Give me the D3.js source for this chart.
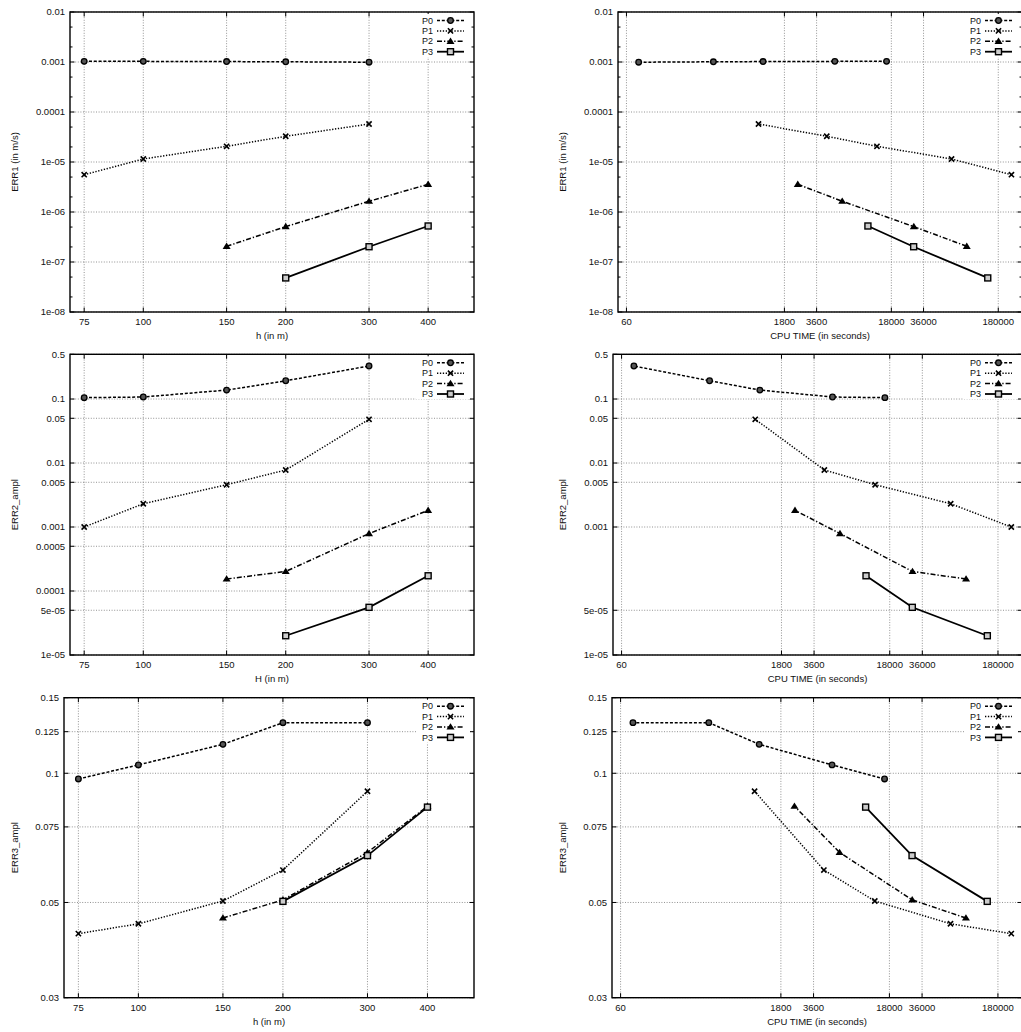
<!DOCTYPE html>
<html lang="en">
<head>
<meta charset="utf-8">
<title>Error convergence</title>
<script src="https://d3js.org/d3.v7.min.js"></script>
<style>
  body { margin: 0; background: #fff; }
  svg text { font-family: "Liberation Sans", Arial, sans-serif; font-size: 9.5px; fill: #111; }
</style>
</head>
<body>
<div id="chart"></div>
<script>
// ---- data ----
const methods = ["P0", "P1", "P2", "P3"];

const hP0 = [75, 100, 150, 200, 300];
const cpuP0 = [16240, 5330, 1136, 390, 78];
const err1P0 = [0.00103, 0.00103, 0.00102, 0.00101, 0.00099];
const err2P0 = [0.105, 0.1075, 0.138, 0.193, 0.328];
const err3P0 = [0.097, 0.1046, 0.1168, 0.1312, 0.1312];

const hP1 = [75, 100, 150, 200, 300];
const cpuP1 = [239000, 65800, 13200, 4480, 1030];
const err1P1 = [5.57e-6, 1.15e-5, 2.06e-5, 3.27e-5, 5.75e-5];
const err2P1 = [0.001, 0.00231, 0.00458, 0.00778, 0.0482];
const err3P1 = [0.0423, 0.0446, 0.0504, 0.0595, 0.0908];

const hP2 = [150, 200, 300, 400];
const cpuP2 = [91300, 29200, 6250, 2400];
const err1P2 = [2.06e-7, 5.1e-7, 1.64e-6, 3.58e-6];
const err2P2 = [1.54e-4, 2.02e-4, 7.9e-4, 1.82e-3];
const err3P2 = [0.046, 0.0507, 0.0654, 0.0838];

const hP3 = [200, 300, 400];
const cpuP3 = [143500, 29100, 10870];
const err1P3 = [4.8e-8, 2.02e-7, 5.25e-7];
const err2P3 = [2.0e-5, 5.56e-5, 1.73e-4];
const err3P3 = [0.0503, 0.0643, 0.0834];

const hTicks = [75, 100, 150, 200, 300, 400];
const cpuTicks = [60, 1800, 3600, 18000, 36000, 180000];
const err1Ticks = [0.01, 0.001, 0.0001, 1e-5, 1e-6, 1e-7, 1e-8];
const err1TickLabels = ["0.01", "0.001", "0.0001", "1e-05", "1e-06", "1e-07", "1e-08"];
const err2Ticks = [0.5, 0.1, 0.05, 0.01, 0.005, 0.001, 0.0005, 0.0001, 5e-5, 1e-5];
const err2TickLabels = ["0.5", "0.1", "0.05", "0.01", "0.005", "0.001", "0.0005", "0.0001", "5e-05", "1e-05"];
const err2TicksCpu = [0.5, 0.1, 0.05, 0.01, 0.005, 0.001, 5e-5, 1e-5];
const err2TickLabelsCpu = ["0.5", "0.1", "0.05", "0.01", "0.005", "0.001", "5e-05", "1e-05"];
const err3Ticks = [0.15, 0.125, 0.1, 0.075, 0.05, 0.03];
const err3TickLabels = ["0.15", "0.125", "0.1", "0.075", "0.05", "0.03"];

const hS = [hP0, hP1, hP2, hP3];
const cpuS = [cpuP0, cpuP1, cpuP2, cpuP3];
const errS = [[err1P0, err1P1, err1P2, err1P3],
              [err2P0, err2P1, err2P2, err2P3],
              [err3P0, err3P1, err3P2, err3P3]];

// ---- layout ----
const W = 1021, H = 1032;
const svg = d3.select("#chart").append("svg")
  .attr("width", W).attr("height", H)
  .attr("viewBox", [0, 0, W, H]);

const rows = [
  {top: 12, bottom: 312, tickY: 321.5, labelY: 336, yDomain: [1e-8, 0.01], ylabel: "ERR1 (in m/s)"},
  {top: 354.3, bottom: 655, tickY: 665, labelY: 679, yDomain: [1e-5, 0.5], ylabel: "ERR2_ampl"},
  {top: 697.7, bottom: 997.7, tickY: 1007.7, labelY: 1021.7, yDomain: [0.03, 0.15], ylabel: "ERR3_ampl"}
];
const leftEdges = [[70, 618], [70, 613], [64, 612]];
const rightEdges = [474, 1022];
const yLabelX = [15, 563];
const hLabels = ["h (in m)", "H (in m)", "h (in m)"];
const yTickSets = [
  [[err1Ticks, err1TickLabels], [err1Ticks, err1TickLabels]],
  [[err2Ticks, err2TickLabels], [err2TicksCpu, err2TickLabelsCpu]],
  [[err3Ticks, err3TickLabels], [err3Ticks, err3TickLabels]]
];

const dashes = ["3,1.8", "1.3,1.6", "5,2,1.3,2", null];

function marker(g, type, x, y) {
  if (type === 0) {
    g.append("circle").attr("cx", x).attr("cy", y).attr("r", 2.8)
      .attr("fill", "#555").attr("stroke", "#000").attr("stroke-width", 1.3);
  } else if (type === 1) {
    const s = 2.6;
    g.append("path").attr("d", `M${x - s},${y - s}L${x + s},${y + s}M${x - s},${y + s}L${x + s},${y - s}`)
      .attr("stroke", "#000").attr("stroke-width", 1.6);
  } else if (type === 2) {
    g.append("path").attr("d", `M${x},${y - 3.8}L${x + 4},${y + 2.6}L${x - 4},${y + 2.6}Z`)
      .attr("fill", "#000");
  } else {
    g.append("rect").attr("x", x - 3).attr("y", y - 3).attr("width", 6).attr("height", 6)
      .attr("fill", "#ccc").attr("stroke", "#000").attr("stroke-width", 1.4);
  }
}

rows.forEach((row, r) => {
  [0, 1].forEach(c => {
    const x0 = leftEdges[r][c], x1 = rightEdges[c];
    const xScale = c === 0
      ? d3.scaleLog().domain([70, 500]).range([x0, x1])
      : d3.scaleLog().domain([50, 300000]).range([x0, x1]);
    const yScale = d3.scaleLog().domain(row.yDomain).range([row.bottom, row.top]);
    const xTicks = c === 0 ? hTicks : cpuTicks;
    const [yTicks, yLabels] = yTickSets[r][c];
    const g = svg.append("g");

    // grid
    const grid = g.append("g").attr("stroke", "#777").attr("stroke-width", 0.8)
      .attr("stroke-dasharray", "1,1.6");
    grid.selectAll("line.gx").data(xTicks).join("line")
      .attr("x1", d => xScale(d)).attr("x2", d => xScale(d))
      .attr("y1", row.top).attr("y2", row.bottom);
    grid.selectAll("line.gy").data(yTicks).join("line")
      .attr("y1", d => yScale(d)).attr("y2", d => yScale(d))
      .attr("x1", x0).attr("x2", x1);

    // minor ticks on log decades (top row)
    if (r === 0) {
      const minors = [];
      for (let e = -8; e < -2; e++) { minors.push(2 * 10 ** e, 5 * 10 ** e); }
      g.append("g").attr("stroke", "#000").attr("stroke-width", 1)
        .selectAll("path").data(minors).join("path")
        .attr("d", d => `M${x0},${yScale(d)}h2.5M${x1},${yScale(d)}h-2.5`);
    }
    // major ticks (mirrored)
    const tk = g.append("g").attr("stroke", "#000").attr("stroke-width", 1);
    tk.selectAll("path.y").data(yTicks).join("path")
      .attr("d", d => `M${x0},${yScale(d)}h4.5M${x1},${yScale(d)}h-4.5`);
    tk.selectAll("path.x").data(xTicks).join("path")
      .attr("d", d => `M${xScale(d)},${row.bottom}v-4.5M${xScale(d)},${row.top}v4.5`);

    // tick labels
    g.append("g").selectAll("text").data(yTicks).join("text")
      .attr("x", x0 - 5).attr("y", d => yScale(d)).attr("dy", "0.35em")
      .attr("text-anchor", "end").text((d, i) => yLabels[i]);
    g.append("g").selectAll("text").data(xTicks).join("text")
      .attr("x", d => xScale(d)).attr("y", row.tickY).attr("dy", "0.35em")
      .attr("text-anchor", "middle").text(d => d);

    // axis titles
    g.append("text").attr("x", (x0 + x1) / 2).attr("y", row.labelY).attr("dy", "0.35em")
      .attr("text-anchor", "middle").text(c === 0 ? hLabels[r] : "CPU TIME (in seconds)");
    g.append("text")
      .attr("transform", `translate(${yLabelX[c]},${(row.top + row.bottom) / 2}) rotate(-90)`)
      .attr("dy", "0.35em").attr("text-anchor", "middle").text(row.ylabel);

    // series
    methods.forEach((m, k) => {
      const xs = c === 0 ? hS[k] : cpuS[k];
      const ys = errS[r][k];
      const pts = xs.map((x, i) => [xScale(x), yScale(ys[i])]);
      g.append("path").attr("d", d3.line()(pts))
        .attr("fill", "none").attr("stroke", "#000").attr("stroke-width", k === 3 ? 1.8 : 1.5)
        .attr("stroke-dasharray", dashes[k]);
      pts.forEach(p => marker(g, k, p[0], p[1]));
    });

    // legend
    const lg = g.append("g");
    lg.append("rect").attr("x", x1 - 58).attr("y", row.top + 2)
      .attr("width", 54).attr("height", 43).attr("fill", "#fff");
    methods.forEach((m, k) => {
      const ly = row.top + 8.5 + k * 10.4;
      lg.append("text").attr("x", x1 - 41).attr("y", ly).attr("dy", "0.35em")
        .attr("text-anchor", "end").style("font-size", "9px").text(m);
      lg.append("path").attr("d", `M${x1 - 37},${ly}H${x1 - 10}`)
        .attr("stroke", "#000").attr("stroke-width", k === 3 ? 1.8 : 1.5)
        .attr("stroke-dasharray", dashes[k]);
      marker(lg, k, x1 - 23.5, ly);
    });

    // frame
    g.append("rect").attr("x", x0).attr("y", row.top)
      .attr("width", x1 - x0).attr("height", row.bottom - row.top)
      .attr("fill", "none").attr("stroke", "#000").attr("stroke-width", 1.4);
  });
});
</script>
</body>
</html>
